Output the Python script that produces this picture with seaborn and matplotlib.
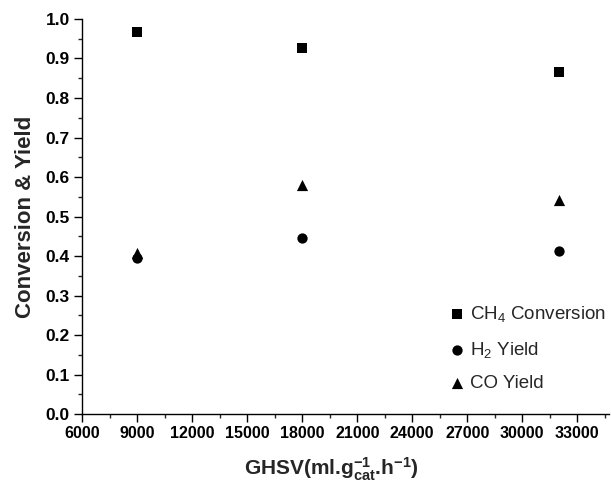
import matplotlib
matplotlib.use("Agg")
import matplotlib.pyplot as plt
from matplotlib.ticker import MultipleLocator
import seaborn as sns
import pandas as pd

ghsv = [9000, 18000, 32000]
ch4_conversion = [0.968, 0.926, 0.865]
h2_yield = [0.396, 0.445, 0.413]
co_yield = [0.408, 0.579, 0.541]

labels = [r"CH$\mathregular{_4}$ Conversion", r"H$\mathregular{_2}$ Yield", "CO Yield"]
xticks = [6000, 9000, 12000, 15000, 18000, 21000, 24000, 27000, 30000, 33000]
yticks = [0.0, 0.1, 0.2, 0.3, 0.4, 0.5, 0.6, 0.7, 0.8, 0.9, 1.0]

sns.set_theme(style="ticks")
plt.rcParams['font.family'] = ['Liberation Sans', 'DejaVu Sans']
plt.rcParams['mathtext.fontset'] = 'custom'
plt.rcParams['mathtext.rm'] = 'Liberation Sans'
plt.rcParams['mathtext.bf'] = 'Liberation Sans:bold'
plt.rcParams['mathtext.it'] = 'Liberation Sans:italic'

fig = plt.figure(figsize=(6.11, 4.82), dpi=100)
ax = fig.add_axes([0.135, 0.141, 0.862, 0.8196])

series = [(ch4_conversion, 's', 45), (h2_yield, 'o', 55), (co_yield, '^', 65)]
for (vals, m, s), lab in zip(series, labels):
    df = pd.DataFrame({"GHSV": ghsv, "value": vals})
    sns.scatterplot(data=df, x="GHSV", y="value", marker=m, s=s, color="black",
                    linewidth=0, ax=ax, label=lab, zorder=3)

ax.set_xlim(6000, 34750)
ax.set_ylim(0, 1.0)
ax.set_xticks(xticks, labels=[str(t) for t in xticks], fontweight='bold', fontsize=11.5)
ax.set_yticks(yticks, labels=[f"{t:.1f}" for t in yticks], fontweight='bold', fontsize=12.5)
ax.xaxis.set_minor_locator(MultipleLocator(1500))
ax.yaxis.set_minor_locator(MultipleLocator(0.05))
ax.tick_params(axis='both', which='major', direction='out', length=5.5, width=1.0,
               colors='black')
ax.tick_params(axis='x', which='major', pad=3)
ax.tick_params(axis='y', which='major', pad=3.5)
ax.tick_params(axis='both', which='minor', direction='out', length=3, width=1.0)

for sp in ['top', 'right']:
    ax.spines[sp].set_visible(False)
for sp in ['left', 'bottom']:
    ax.spines[sp].set_linewidth(1.0)
    ax.spines[sp].set_color('black')

ax.set_xlabel(r"GHSV(ml.g$\mathbf{_{cat}^{-1}}$.h$\mathbf{^{-1}}$)", fontsize=15,
              fontweight='bold', labelpad=8)
ax.xaxis.set_label_coords(0.472, -0.105)
ax.set_ylabel("Conversion & Yield", fontsize=16, fontweight='bold', labelpad=7)

leg = ax.legend(loc='upper left', bbox_to_anchor=(452.3 / 611, 1 - 304 / 482),
                bbox_transform=fig.transFigure, frameon=False,
                fontsize=13.5, labelspacing=0.83, handletextpad=0.45, handlelength=0.5,
                borderpad=0, borderaxespad=0)

fig.savefig("out.png", dpi=100)
